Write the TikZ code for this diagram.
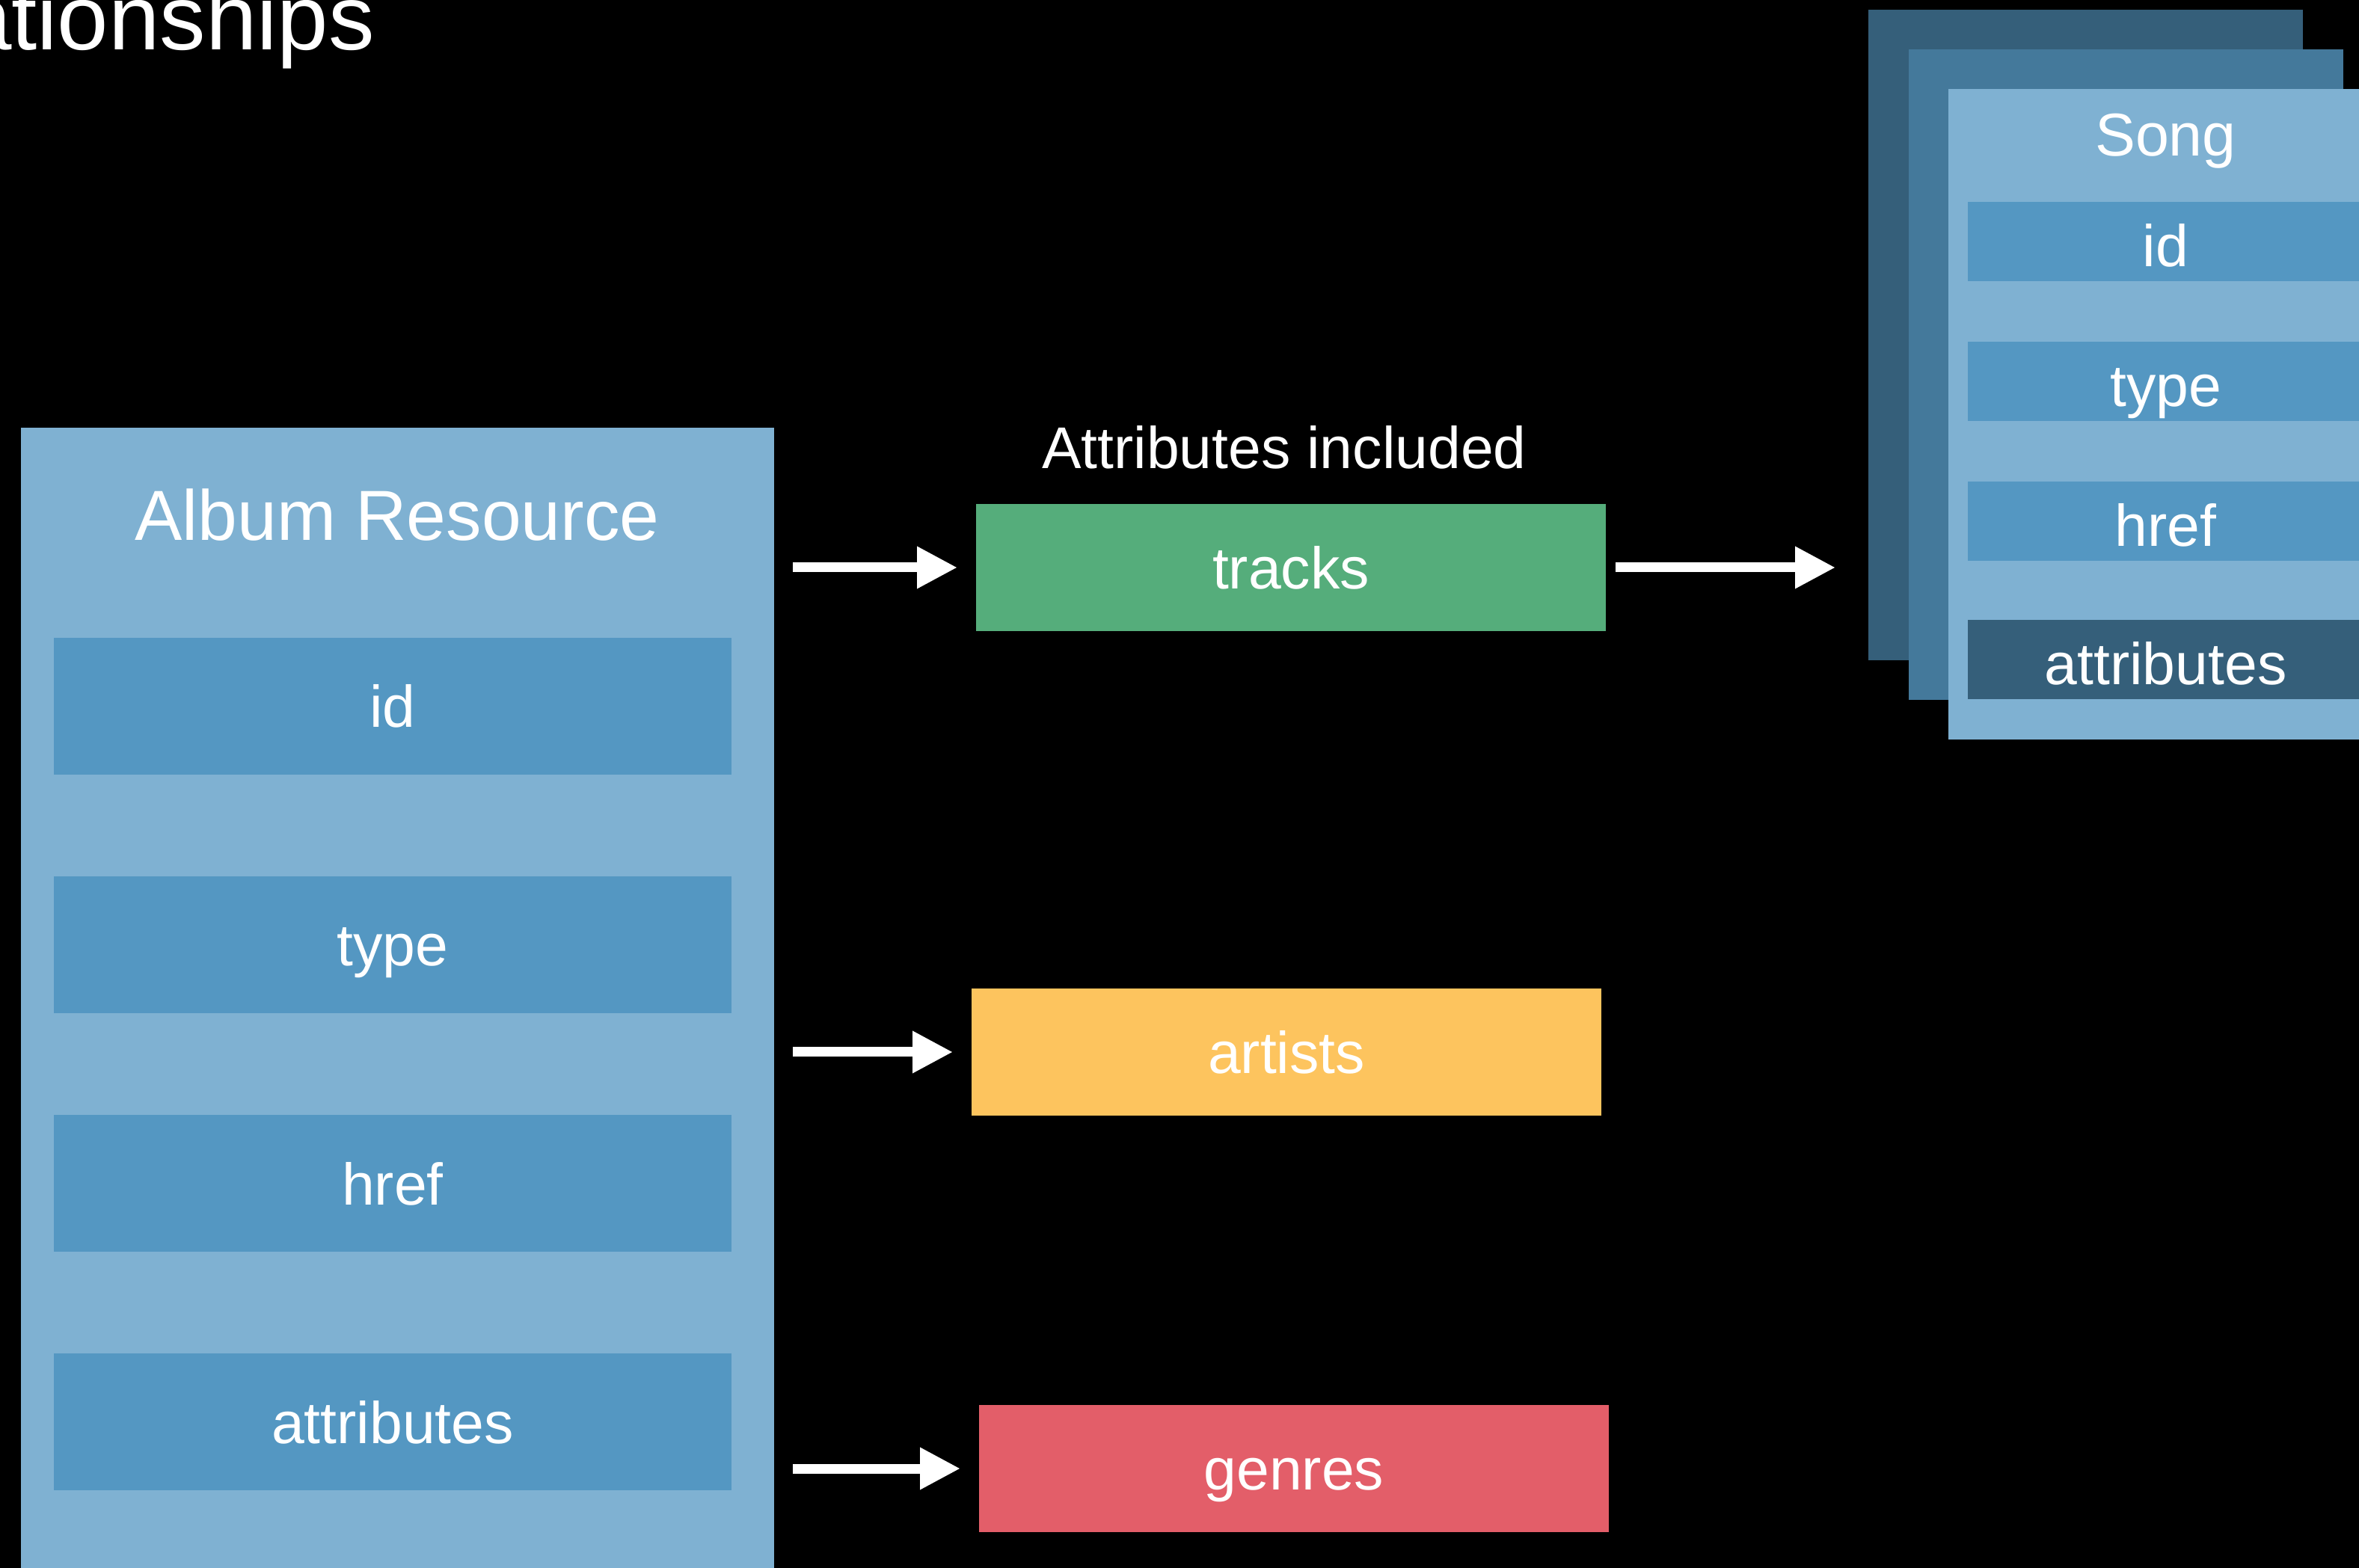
\documentclass[tikz,border=0pt]{standalone}
\usepackage{fontspec}
\setmainfont{Liberation Sans}
\usetikzlibrary{calc,positioning,arrows.meta}
\definecolor{albumbg}{HTML}{7FB1D2}
\definecolor{fieldblue}{HTML}{5497C2}
\definecolor{trackgreen}{HTML}{55AD7B}
\definecolor{artistyellow}{HTML}{FDC45E}
\definecolor{genrered}{HTML}{E35E69}
\definecolor{stackdark}{HTML}{355F7A}
\definecolor{stackmid}{HTML}{44799B}

\begin{document}
\begin{tikzpicture}[
  plainbox/.style={inner sep=0pt, outer sep=0pt, text=white},
  label/.style={plainbox, anchor=base},
  albumfield/.style={plainbox, fill=fieldblue, minimum width=9.06cm, minimum height=1.83cm, font=\fontsize{22.4}{26}\selectfont, text height=0.57cm, text depth=0pt},
  relbox/.style={plainbox, minimum width=8.42cm, minimum height=1.70cm, font=\fontsize{22.4}{26}\selectfont, text height=0.57cm, text depth=0pt},
  card/.style={plainbox, minimum width=5.81cm, minimum height=8.70cm, anchor=north west},
  songfield/.style={plainbox, fill=fieldblue, minimum width=5.29cm, minimum height=1.06cm, font=\fontsize{22.4}{26}\selectfont, text height=0.68cm, text depth=0pt},
  fatarrow/.style={white, line width=0.13cm, -{Triangle[width=0.53cm,length=0.54cm]}}
]
\useasboundingbox (0,0) rectangle (31.54,-20.97);
\clip (0,0) rectangle (31.54,-20.97);
\fill[black] (0,0) rectangle (31.54,-20.97);

\node[plainbox, anchor=base east, font=\fontsize{35}{40}\selectfont] (title) at (5.01,-0.67) {Relationships};

% album resource
\node[plainbox, fill=albumbg, anchor=north west, minimum width=10.07cm, minimum height=15.6cm] (album) at (0.28,-5.72) {};
\node[label, font=\fontsize{27}{32}\selectfont] (albumtitle) at (5.31,-7.23) {Album Resource};
\node[albumfield] (a-id) at (5.25,-9.445) {id};
\node[albumfield, below=1.36cm of a-id] (a-type) {type};
\node[albumfield, below=1.36cm of a-type] (a-href) {href};
\node[albumfield, below=1.36cm of a-href] (a-attr) {attributes};

% relationships
\node[label, font=\fontsize{22.4}{26}\selectfont] (included) at (17.17,-6.27) {Attributes included};
\node[relbox, fill=trackgreen] (tracks) at (17.26,-7.59) {tracks};
\node[relbox, fill=artistyellow] (artists) at (17.20,-14.07) {artists};
\node[relbox, fill=genrered] (genres) at (17.30,-19.64) {genres};

% stack of songs
\node[card, fill=stackdark] (song-back) at (24.98,-0.13) {};
\node[card, fill=stackmid] (song-mid) at (25.52,-0.66) {};
\node[card, fill=albumbg] (song) at (26.05,-1.19) {};
\node[label, font=\fontsize{23}{28}\selectfont] (songtitle) at (28.955,-2.09) {Song};
\node[songfield] (s-id) at (28.955,-3.23) {id};
\node[songfield, below=0.81cm of s-id] (s-type) {type};
\node[songfield, below=0.81cm of s-type] (s-href) {href};
\node[songfield, fill=stackdark, below=0.79cm of s-href] (s-attr) {attributes};

\draw[fatarrow, shorten <=0.25cm, shorten >=0.25cm] (album.east |- tracks.west) -- (tracks.west);
\draw[fatarrow, shorten <=0.25cm, shorten >=0.25cm] (album.east |- artists.west) -- (artists.west);
\draw[fatarrow, shorten <=0.25cm, shorten >=0.25cm] (album.east |- genres.west) -- (genres.west);
\draw[fatarrow, shorten <=0.13cm, shorten >=0.44cm] (tracks.east) -- (song-back.west |- tracks.east);

\end{tikzpicture}
\end{document}
